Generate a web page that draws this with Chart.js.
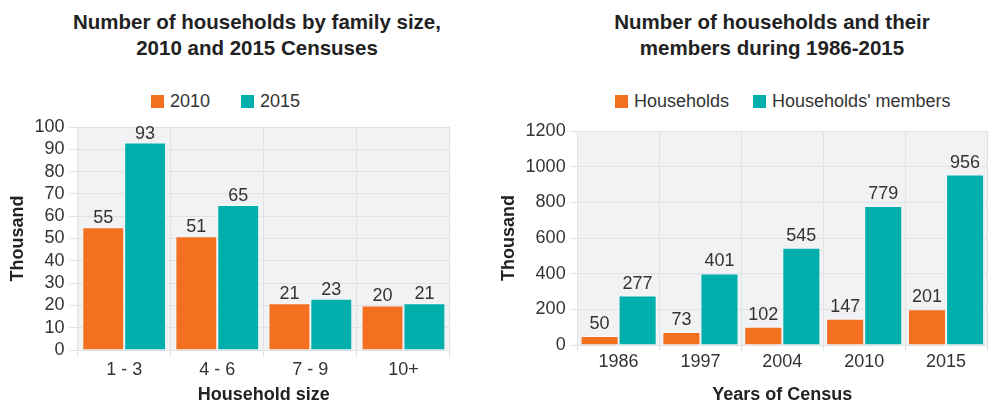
<!DOCTYPE html>
<html>
<head>
<meta charset="utf-8">
<script src="https://cdn.jsdelivr.net/npm/chart.js@4.4.0/dist/chart.umd.min.js"></script>
<style>
  body { margin: 0; background: #fff; font-family: "Liberation Sans", Arial, sans-serif; }
  #wrap { position: relative; width: 988px; height: 402px; overflow: hidden; }
  .title { position: absolute; top: 9px; width: 440px; text-align: center; font-weight: bold;
           font-size: 20.5px; line-height: 26px; color: #222; }
  .legend { position: absolute; top: 91px; height: 20px; display: flex; align-items: center;
            font-size: 18px; color: #333; white-space: nowrap; }
  .legend .item { display: flex; align-items: center; }
  .legend .box { display: inline-block; width: 13px; height: 13px; margin-right: 6px; }
  .holder { position: absolute; top: 0; height: 402px; }
</style>
</head>
<body>
<div id="wrap">
  <div class="title" style="left:37px">Number of households by family size,<br>2010 and 2015 Censuses</div>
  <div class="title" style="left:552px">Number of households and their<br>members during 1986-2015</div>
  <div class="legend" id="legend1" style="left:151px"></div>
  <div class="legend" id="legend2" style="left:615px"></div>
  <div class="holder" style="left:0; width:470px"><canvas id="c1"></canvas></div>
  <div class="holder" style="left:490px; width:498px"><canvas id="c2"></canvas></div>
</div>
<script>
// left chart data
const sizeCats = ['1 - 3', '4 - 6', '7 - 9', '10+'];
const hh2010 = [55, 51, 21, 20];
const hh2015 = [93, 65, 23, 21];

// right chart data
const censusYears = ['1986', '1997', '2004', '2010', '2015'];
const households = [50, 73, 102, 147, 201];
const members = [277, 401, 545, 779, 956];

const ORANGE = '#f37021';
const TEAL = '#00aeab';
const FONT = '"Liberation Sans", Arial, sans-serif';
const GRID = '#e1e2e5';

// plot area background
const plotBg = {
  id: 'plotBg',
  beforeDraw(chart) {
    const a = chart.chartArea;
    chart.ctx.save();
    chart.ctx.fillStyle = '#f1f2f4';
    chart.ctx.fillRect(a.left, a.top, a.right - a.left, a.bottom - a.top);
    chart.ctx.restore();
  }
};

// numbers above the bars
const valueLabels = {
  id: 'valueLabels',
  afterDatasetsDraw(chart, args, opts) {
    const ctx = chart.ctx;
    ctx.save();
    ctx.font = '18px ' + FONT;
    ctx.fillStyle = '#333';
    ctx.textAlign = 'center';
    ctx.textBaseline = 'alphabetic';
    chart.data.datasets.forEach((ds, i) => {
      chart.getDatasetMeta(i).data.forEach((bar, j) => {
        ctx.fillText(ds.data[j], bar.x, bar.y - opts.offset);
      });
    });
    ctx.restore();
  }
};

function makeLegend(el, labels, colors, gap) {
  labels.forEach((l, i) => {
    const it = document.createElement('span');
    it.className = 'item';
    if (i > 0) it.style.marginLeft = gap + 'px';
    it.innerHTML = '<span class="box" style="background:' + colors[i] + '"></span>' + l;
    el.appendChild(it);
  });
}
makeLegend(document.getElementById('legend1'), ['2010', '2015'], [ORANGE, TEAL], 31);
makeLegend(document.getElementById('legend2'), ['Households', "Households' members"], [ORANGE, TEAL], 24);

function barChart(id, cats, a, b, opt) {
  return new Chart(document.getElementById(id), {
    type: 'bar',
    data: {
      labels: cats,
      datasets: [
        { label: 'a', data: a, backgroundColor: ORANGE, borderColor: 'rgba(255,255,255,0.35)', borderWidth: 1 },
        { label: 'b', data: b, backgroundColor: TEAL, borderColor: 'rgba(255,255,255,0.35)', borderWidth: 1 }
      ]
    },
    options: {
      responsive: true,
      maintainAspectRatio: false,
      animation: false,
      categoryPercentage: opt.catPct,
      barPercentage: 1,
      layout: { padding: opt.padding },
      plugins: {
        legend: { display: false },
        title: { display: false },
        tooltip: { enabled: false },
        valueLabels: { offset: opt.labelOffset }
      },
      scales: {
        x: {
          grid: { color: GRID, tickLength: opt.xTick, offset: true },
          border: { color: GRID },
          ticks: { color: '#333', font: { family: FONT, size: 18, lineHeight: 1 }, padding: opt.xPad },
          title: { display: true, text: opt.xTitle, color: '#222',
                   font: { family: FONT, size: 18, weight: 'bold', lineHeight: 1 },
                   padding: { top: opt.xTitlePad, bottom: 0 } }
        },
        y: {
          min: 0, max: opt.max,
          grid: { color: GRID, tickLength: 8 },
          border: { color: GRID },
          ticks: { stepSize: opt.step, autoSkip: false, color: '#333',
                   font: { family: FONT, size: 18, lineHeight: 1 }, padding: opt.yPad,
                   callback: v => String(v) },
          title: { display: true, text: 'Thousand', color: '#222',
                   font: { family: FONT, size: 18, weight: 'bold' },
                   padding: { top: 4, bottom: opt.yTitlePad } }
        }
      }
    },
    plugins: [plotBg, valueLabels]
  });
}

barChart('c1', sizeCats, hh2010, hh2015, {
  catPct: 0.9, max: 100, step: 10, labelOffset: 4,
  padding: { top: 127, right: 20, bottom: -2, left: 3 },
  xTick: 7, xPad: 4, xTitlePad: 3, yPad: 5, yTitlePad: 1,
  xTitle: 'Household size'
});

barChart('c2', censusYears, households, members, {
  catPct: 0.93, max: 1200, step: 200, labelOffset: 7,
  padding: { top: 131, right: 1, bottom: -2, left: 4 },
  xTick: 6, xPad: 2.5, xTitlePad: 12, yPad: 4, yTitlePad: 2,
  xTitle: 'Years of Census'
});
</script>
</body>
</html>
